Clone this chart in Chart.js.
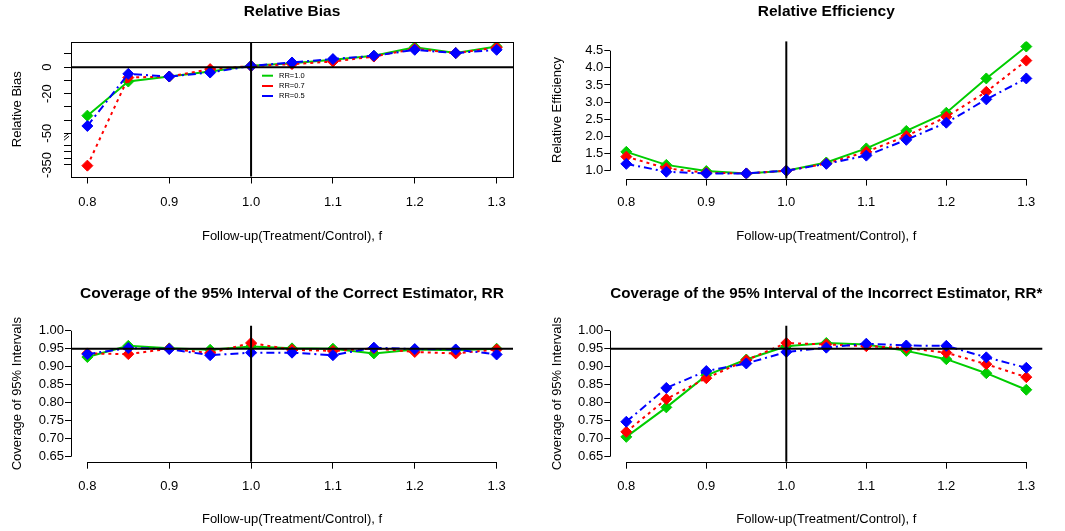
<!DOCTYPE html>
<html>
<head>
<meta charset="utf-8">
<script src="https://cdn.jsdelivr.net/npm/chart.js@4.4.1/dist/chart.umd.min.js"></script>
<style>
  html, body { margin: 0; padding: 0; background: #fff; }
  #wrap { position: relative; width: 1065px; height: 531px; }
  canvas { position: absolute; }
</style>
</head>
<body>
<div id="wrap">
  <canvas id="bias" width="532" height="265" style="left:0;top:0"></canvas>
  <canvas id="eff" width="533" height="265" style="left:532px;top:0"></canvas>
  <canvas id="covOk" width="532" height="266" style="left:0;top:265px"></canvas>
  <canvas id="covBad" width="533" height="266" style="left:532px;top:265px"></canvas>
</div>
<script>
// follow-up ratio f
const fValues = [0.8, 0.85, 0.9, 0.95, 1.0, 1.05, 1.1, 1.15, 1.2, 1.25, 1.3];
const fTicks = [0.8, 0.9, 1.0, 1.1, 1.2, 1.3];
const seriesLabels = ['RR=1.0', 'RR=0.7', 'RR=0.5'];

// relative bias (%)
const biasRR10 = [-36.7, -10.9, -7.1, -3.3, 1.0, 3.0, 5.5, 8.6, 15.1, 10.6, 15.6];
const biasRR07 = [-355, -7.9, -7.1, -1.5, 0.8, 2.3, 4.2, 8.0, 13.9, 10.6, 14.8];
const biasRR05 = [-44.5, -5.1, -7.1, -4.1, 0.9, 3.5, 6.1, 8.6, 13.1, 10.6, 13.1];
const biasTicks = [10, 0, -10, -20, -30, -40, -50, -200, -250, -300, -350];
const biasTickLabels = [0, -20, -50, -350];

// relative efficiency
const effRR10 = [1.55, 1.17, 0.99, 0.92, 1.0, 1.24, 1.65, 2.16, 2.69, 3.69, 4.62];
const effRR07 = [1.41, 1.07, 0.94, 0.92, 1.0, 1.21, 1.55, 2.01, 2.57, 3.30, 4.21];
const effRR05 = [1.20, 0.97, 0.92, 0.92, 1.0, 1.20, 1.44, 1.90, 2.40, 3.08, 3.69];
const effTicks = [1.0, 1.5, 2.0, 2.5, 3.0, 3.5, 4.0, 4.5];

// coverage, correct estimator RR
const covOkRR10 = [0.927, 0.958, 0.951, 0.947, 0.956, 0.951, 0.950, 0.937, 0.948, 0.946, 0.950];
const covOkRR07 = [0.937, 0.935, 0.950, 0.938, 0.966, 0.947, 0.944, 0.951, 0.941, 0.937, 0.948];
const covOkRR05 = [0.935, 0.952, 0.949, 0.932, 0.939, 0.939, 0.932, 0.953, 0.949, 0.948, 0.934];

// coverage, incorrect estimator RR*
const covBadRR10 = [0.705, 0.787, 0.876, 0.920, 0.957, 0.966, 0.962, 0.944, 0.921, 0.882, 0.836];
const covBadRR07 = [0.719, 0.810, 0.868, 0.918, 0.966, 0.962, 0.957, 0.952, 0.939, 0.907, 0.871];
const covBadRR05 = [0.747, 0.841, 0.888, 0.909, 0.941, 0.953, 0.964, 0.959, 0.958, 0.926, 0.897];
const covTicks = [0.65, 0.70, 0.75, 0.80, 0.85, 0.90, 0.95, 1.00];

const GREEN = '#00CD00', RED = '#FF0000', BLUE = '#0000FF';
const FONT = "'Liberation Sans', Arial, Helvetica, sans-serif";
Chart.defaults.font.family = FONT;
Chart.defaults.color = '#000';

// broken bias axis: below -50 the scale is squeezed
function biasToAxis(v) {
  if (v >= -50) return v;
  if (v >= -200) return -50 + (v + 50) * 9 / 150;
  return -59 + (v + 200) / 10;
}

function makeSets(g, r, b, map) {
  const m = map || (v => v);
  const mk = (label, vals, color, dash) => ({
    label: label,
    data: vals.map((v, i) => ({ x: fValues[i], y: m(v) })),
    borderColor: color,
    backgroundColor: color,
    borderWidth: 2,
    borderDash: dash,
    pointStyle: 'rectRot',
    pointRadius: 5.5,
    pointBorderWidth: 1,
    pointBorderColor: color,
    pointBackgroundColor: color,
    tension: 0
  });
  // last in list is drawn first, so blue ends up on top
  return [
    mk(seriesLabels[2], b, BLUE, [8, 4, 2, 4]),
    mk(seriesLabels[1], r, RED, [3, 4]),
    mk(seriesLabels[0], g, GREEN, [])
  ];
}

const rStyle = {
  id: 'rStyle',
  afterDatasetsDraw(chart, args, o) {
    const { ctx, chartArea: a } = chart;
    const x = chart.scales.x, y = chart.scales.y;
    ctx.save();
    ctx.strokeStyle = '#000';
    ctx.setLineDash([]);
    ctx.lineWidth = 2;
    ctx.beginPath();
    if (o.vline != null) {
      const px = x.getPixelForValue(o.vline);
      ctx.moveTo(px, a.top); ctx.lineTo(px, a.bottom);
    }
    if (o.hline != null) {
      const py = y.getPixelForValue(o.hline);
      ctx.moveTo(a.left, py); ctx.lineTo(a.right, py);
    }
    ctx.stroke();

    ctx.lineWidth = 1;
    if (o.box) {
      ctx.strokeRect(Math.round(a.left) + 0.5, Math.round(a.top) + 0.5,
        Math.round(a.width), Math.round(a.height));
    } else {
      const xt = x.ticks, yt = y.ticks;
      const by = Math.round(a.bottom) + 0.5, lx = Math.round(a.left) + 0.5;
      ctx.beginPath();
      ctx.moveTo(x.getPixelForValue(xt[0].value), by);
      ctx.lineTo(x.getPixelForValue(xt[xt.length - 1].value), by);
      ctx.moveTo(lx, y.getPixelForValue(yt[0].value));
      ctx.lineTo(lx, y.getPixelForValue(yt[yt.length - 1].value));
      ctx.stroke();
    }

    if (o.rotLabels) {
      ctx.fillStyle = '#000';
      ctx.font = '13px ' + FONT;
      ctx.textAlign = 'center';
      ctx.textBaseline = 'middle';
      o.rotLabels.forEach(v => {
        const py = y.getPixelForValue(biasToAxis(v));
        ctx.save();
        ctx.translate(o.rotX, py);
        ctx.rotate(-Math.PI / 2);
        ctx.fillText(String(v), 0, 0);
        ctx.restore();
      });
    }

    if (o.breakAt != null) {
      const py = y.getPixelForValue(o.breakAt);
      const lx = a.left;
      ctx.fillStyle = '#fff';
      ctx.fillRect(lx - 6, py - 2, 5, 4);
      ctx.beginPath();
      ctx.moveTo(lx - 7, py); ctx.lineTo(lx - 2, py - 4);
      ctx.moveTo(lx - 7, py + 3); ctx.lineTo(lx - 2, py - 1);
      ctx.stroke();
    }

    if (o.legend) {
      const L = o.legend;
      const cols = [GREEN, RED, BLUE];
      ctx.font = '7.5px ' + FONT;
      ctx.textAlign = 'left';
      ctx.textBaseline = 'middle';
      ctx.lineWidth = 2;
      L.ys.forEach((ly, i) => {
        ctx.strokeStyle = cols[i];
        ctx.beginPath();
        ctx.moveTo(L.x1, ly); ctx.lineTo(L.x2, ly);
        ctx.stroke();
        ctx.fillStyle = '#000';
        ctx.fillText(seriesLabels[i], L.tx, ly);
      });
    }
    ctx.restore();
  }
};

function panel(id, p) {
  const tickGrid = { drawOnChartArea: false, drawTicks: true, tickLength: 7, color: '#000', lineWidth: 1 };
  return new Chart(document.getElementById(id), {
    type: 'line',
    data: { datasets: p.datasets },
    plugins: [rStyle],
    options: {
      responsive: false,
      animation: false,
      layout: { padding: { left: 0, right: p.padRight, top: 0, bottom: 0 } },
      scales: {
        x: {
          type: 'linear',
          min: 0.78, max: 1.32,
          afterBuildTicks: s => { s.ticks = fTicks.map(v => ({ value: v })); },
          afterFit: s => { s.height = p.xHeight; },
          grid: tickGrid,
          border: { display: false },
          ticks: { autoSkip: false, maxRotation: 0, padding: p.xTickPad, font: { size: 13 },
            callback: v => v.toFixed(1) },
          title: { display: true, text: 'Follow-up(Treatment/Control), f', font: { size: 13 },
            padding: { top: 0, bottom: p.xTitlePad } }
        },
        y: {
          type: 'linear',
          min: p.yMin, max: p.yMax,
          afterBuildTicks: s => { s.ticks = p.yTicks.map(v => ({ value: v })); },
          afterFit: s => { s.width = p.yWidth; },
          grid: Object.assign({}, tickGrid, { tickLength: p.yTickLen }),
          border: { display: false },
          ticks: { display: p.yLabels, autoSkip: false, padding: 1, font: { size: 13 },
            callback: p.yFormat },
          title: { display: true, text: p.yTitle, font: { size: 13 },
            padding: { top: p.yTitlePad, bottom: 0 } }
        }
      },
      plugins: {
        legend: { display: false },
        tooltip: { enabled: false },
        title: { display: true, text: p.title, fullSize: false, color: '#000',
          font: { size: 15.5, weight: 'bold' }, padding: p.titlePad },
        rStyle: p.extra
      }
    }
  });
}

panel('bias', {
  datasets: makeSets(biasRR10, biasRR07, biasRR05, biasToAxis),
  title: 'Relative Bias', titlePad: { top: 2, bottom: 21.4 },
  padRight: 19, xHeight: 88.5, xTickPad: 10.7, xTitlePad: 21.2,
  yMin: -82.7, yMax: 19, yTicks: biasTicks.map(biasToAxis), yWidth: 71, yTickLen: 7,
  yLabels: false, yFormat: v => v, yTitle: 'Relative Bias', yTitlePad: 9.2,
  extra: { box: true, vline: 1.0, hline: 0, rotLabels: biasTickLabels, rotX: 47,
    breakAt: -53, legend: { x1: 262, x2: 273, tx: 279, ys: [75.7, 86, 96] } }
});

panel('eff', {
  datasets: makeSets(effRR10, effRR07, effRR05),
  title: 'Relative Efficiency', titlePad: { top: 2, bottom: 20.8 },
  padRight: 22.7, xHeight: 86.4, xTickPad: 8.9, xTitlePad: 21.2,
  yMin: 0.77, yMax: 4.77, yTicks: effTicks, yWidth: 78.3, yTickLen: 6,
  yLabels: true, yFormat: v => v.toFixed(1), yTitle: 'Relative Efficiency', yTitlePad: 17.2,
  extra: { vline: 1.0 }
});

panel('covOk', {
  datasets: makeSets(covOkRR10, covOkRR07, covOkRR05),
  title: 'Coverage of the 95% Interval of the Correct Estimator, RR', titlePad: { top: 19.5, bottom: 22.6 },
  padRight: 19, xHeight: 69.3, xTickPad: 9.5, xTitlePad: 4.2,
  yMin: 0.636, yMax: 1.014, yTicks: covTicks, yWidth: 71, yTickLen: 6,
  yLabels: true, yFormat: v => v.toFixed(2), yTitle: 'Coverage of 95% Intervals', yTitlePad: 9.5,
  extra: { vline: 1.0, hline: 0.95 }
});

panel('covBad', {
  datasets: makeSets(covBadRR10, covBadRR07, covBadRR05),
  title: 'Coverage of the 95% Interval of the Incorrect Estimator, RR*', titlePad: { top: 19.5, bottom: 22.6 },
  padRight: 22.7, xHeight: 69.3, xTickPad: 9.5, xTitlePad: 4.2,
  yMin: 0.636, yMax: 1.014, yTicks: covTicks, yWidth: 78.3, yTickLen: 6,
  yLabels: true, yFormat: v => v.toFixed(2), yTitle: 'Coverage of 95% Intervals', yTitlePad: 17.9,
  extra: { vline: 1.0, hline: 0.95 }
});
</script>
</body>
</html>
